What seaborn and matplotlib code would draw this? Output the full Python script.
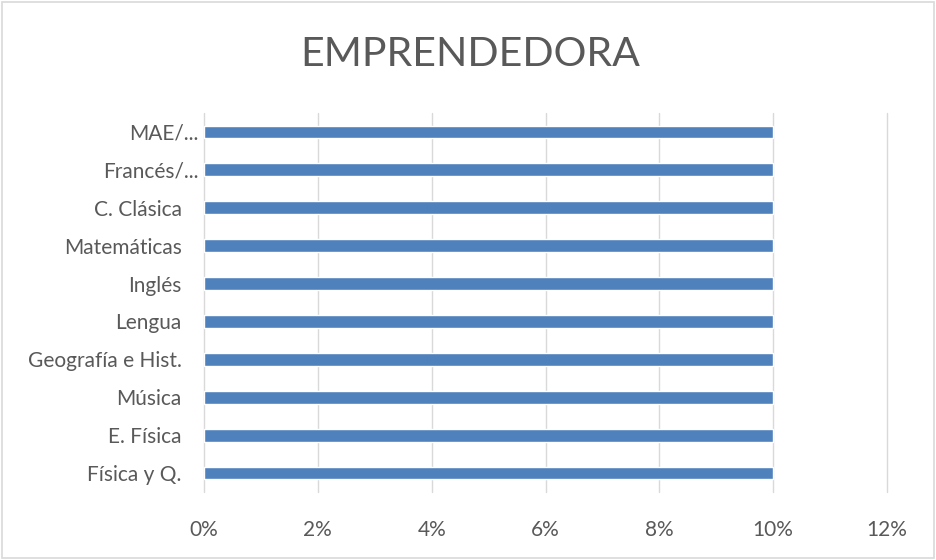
import matplotlib
matplotlib.use("Agg")
import matplotlib.pyplot as plt
import seaborn as sns
import pandas as pd
from matplotlib.ticker import PercentFormatter, MultipleLocator
from matplotlib.patches import Rectangle
from matplotlib.transforms import ScaledTranslation

categories = ["MAE/...", "Francés/...", "C. Clásica", "Matemáticas", "Inglés",
              "Lengua", "Geografía e Hist.", "Música", "E. Física", "Física y Q."]
values = [0.10, 0.10, 0.10, 0.10, 0.10, 0.10, 0.10, 0.10, 0.10, 0.10]
title = "EMPRENDEDORA"

sns.set_style("white")
plt.rcParams['font.family'] = ['Lato', 'DejaVu Sans']

df = pd.DataFrame({"cat": categories, "val": values})

fig = plt.figure(figsize=(9.36, 5.6), dpi=100)
ax = fig.add_axes([204/936, 1 - 492/560, (887 - 204)/936, (492 - 113)/560])
sns.barplot(data=df, x="val", y="cat", color="#4f81bd", width=0.34,
            saturation=1, ax=ax, zorder=3)

ax.set_xlim(0, 0.12)
ax.set_ylim(9.5, -0.5)
ax.xaxis.set_major_locator(MultipleLocator(0.02))
ax.xaxis.set_major_formatter(PercentFormatter(1.0, decimals=0))
ax.grid(axis="x", color="#d9d9d9", linewidth=1, zorder=0)
for gl in ax.get_xgridlines():
    gl.set_clip_on(False)
ax.set_axisbelow(True)
for s in ax.spines.values():
    s.set_visible(False)
ax.set_xlabel("")
ax.set_ylabel("")
ax.tick_params(axis="x", length=0, labelsize=15, labelcolor="#595959", pad=20)
ax.tick_params(axis="y", length=0, labelsize=15, labelcolor="#595959", pad=16)

# Excel places the truncated labels closer to the axis
for lab in ax.get_yticklabels():
    if lab.get_text().endswith("..."):
        lab.set_transform(lab.get_transform() +
                          ScaledTranslation(12/72, 0, fig.dpi_scale_trans))

fig.text(470/936, 1 - 55/560, title, ha="center", va="center",
         fontsize=29.5, color="#595959")

fig.patches.append(Rectangle((0.002, 0.003), 0.996, 0.994, transform=fig.transFigure,
                             fill=False, edgecolor="#d9d9d9", linewidth=1.2))

fig.savefig("out.png", dpi=100)
